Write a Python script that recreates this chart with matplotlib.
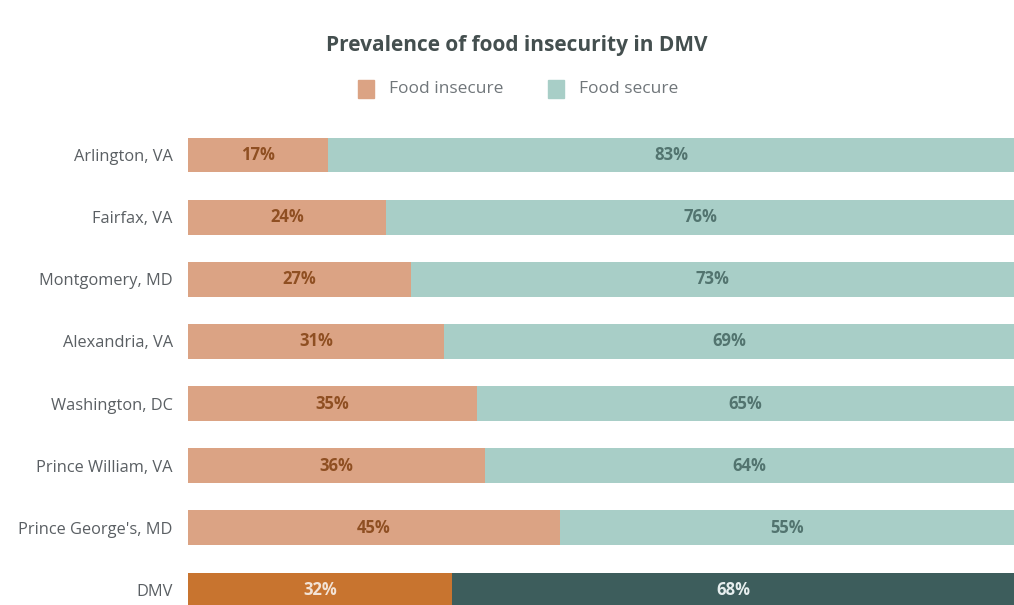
import matplotlib
matplotlib.use("Agg")
import matplotlib.pyplot as plt
import numpy as np

plt.rcParams['font.family'] = ['Open Sans', 'DejaVu Sans']

counties = ["Arlington, VA", "Fairfax, VA", "Montgomery, MD", "Alexandria, VA",
            "Washington, DC", "Prince William, VA", "Prince George's, MD", "DMV"]
insecure = [17, 24, 27, 31, 35, 36, 45, 32]
secure = [83, 76, 73, 69, 65, 64, 55, 68]

c_insec = "#dba384"
c_sec = "#a8cec7"
c_insec_dmv = "#c8742f"
c_sec_dmv = "#3d5d5c"
txt_insec = "#8f4f22"
txt_sec = "#52746f"

fig = plt.figure(figsize=(10.14, 6.05), dpi=100)
ax = fig.add_axes([188 / 1014, 0, 1 - 188 / 1014, 481 / 605])

y = np.arange(len(counties))
h = 0.56
for i, (a, b) in enumerate(zip(insecure, secure)):
    dmv = counties[i] == "DMV"
    ax.barh(i, a, height=h, color=c_insec_dmv if dmv else c_insec)
    ax.barh(i, b, left=a, height=h, color=c_sec_dmv if dmv else c_sec)
    ax.text(a / 2, i, f"{a}%", ha="center", va="center", fontsize=12,
            fontweight="bold", color="#f3e3d6" if dmv else txt_insec)
    ax.text(a + b / 2, i, f"{b}%", ha="center", va="center", fontsize=12,
            fontweight="bold", color="#e6eeee" if dmv else txt_sec)

ax.set_xlim(0, 100)
ax.set_ylim(7.242, -0.5)
ax.set_yticks(y)
ax.set_yticklabels(counties, fontsize=11.8, color="#5a5f63")
ax.tick_params(axis="y", length=0, pad=11)
ax.set_xticks([])
for s in ax.spines.values():
    s.set_visible(False)

fig.text(517 / 1014, 1 - 45 / 605, "Prevalence of food insecurity in DMV",
         ha="center", va="center", fontsize=15, fontweight="bold", color="#444f4f")

# legend
ly = 1 - 89 / 605
fig.patches.append(plt.Rectangle((358 / 1014, ly - 9 / 605), 16 / 1014, 18 / 605,
                                 transform=fig.transFigure, color=c_insec))
fig.text(389 / 1014, ly, "Food insecure", ha="left", va="center", fontsize=12.5, color="#70767a")
fig.patches.append(plt.Rectangle((548 / 1014, ly - 9 / 605), 16 / 1014, 18 / 605,
                                 transform=fig.transFigure, color=c_sec))
fig.text(579 / 1014, ly, "Food secure", ha="left", va="center", fontsize=12.5, color="#70767a")

plt.savefig("out.png", dpi=100)
plt.close()
